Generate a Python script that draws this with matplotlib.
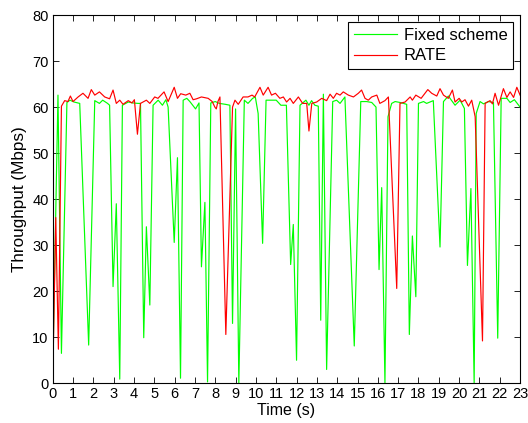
import matplotlib
matplotlib.use("Agg")
import matplotlib.pyplot as plt

# Fixed scheme (green) breakpoints
fixed_t = [0, 0.26, 0.43, 0.7, 0.85, 1.05, 1.33, 1.77, 2.07, 2.3, 2.46, 2.7, 2.8, 2.97, 3.13, 3.3,
           3.43, 3.72, 3.95, 4.2, 4.32, 4.48, 4.61, 4.78, 4.94, 5.19, 5.4, 5.57, 5.68, 5.98, 6.14,
           6.29, 6.42, 6.6, 6.75, 7.03, 7.2, 7.32, 7.49, 7.62, 7.78, 8.0, 8.2, 8.5, 8.72, 8.85,
           9.0, 9.16, 9.43, 9.61, 9.84, 9.97, 10.11, 10.33, 10.5, 10.8, 11.0, 11.23, 11.5, 11.71,
           11.84, 12.0, 12.17, 12.46, 12.61, 12.74, 12.9, 13.07, 13.19, 13.32, 13.48, 13.78,
           13.97, 14.14, 14.38, 14.84, 15.16, 15.45, 15.7, 15.91, 16.06, 16.19, 16.35, 16.5,
           16.68, 16.85, 17.1, 17.42, 17.55, 17.7, 17.87, 18.0, 18.25, 18.4, 18.73, 19.06,
           19.23, 19.47, 19.8, 20.05, 20.26, 20.41, 20.58, 20.74, 20.84, 21.03, 21.2, 21.44,
           21.69, 21.9, 22.07, 22.35, 22.51, 22.72, 23.0]
fixed_v = [2, 62.6, 6.5, 61, 61.5, 61.1, 60.8, 8.3, 61.4, 60.8, 61.5, 60.8, 60.4, 21, 39, 0.9,
           60.4, 61.1, 60.9, 60.8, 60.8, 9.9, 34, 17, 60.4, 61.5, 60.4, 61.6, 60, 30.6, 49,
           1.1, 61.5, 61.9, 61.2, 59.6, 60.9, 25.3, 39.3, 0.3, 60.9, 61.2, 60.8, 60.6, 60.4, 13,
           59.6, 0, 61.5, 60.8, 61.9, 62.2, 58.6, 30.4, 61.5, 61.5, 61.5, 60.4, 60.4, 25.8,
           34.5, 5, 60.4, 61.5, 60.4, 61.4, 60.4, 60.2, 13.7, 62.8, 3, 61.2,
           61.5, 60.8, 62.2, 8.1, 61.2, 61.2, 61, 60, 24.7, 42.5, 0, 57.9,
           60.8, 61.2, 61, 60.6, 10.6, 32, 18.8, 60.8, 61.2, 60.8, 61.4, 29.6,
           61.2, 62.4, 60.4, 61.5, 59.7, 25.6, 42.3, 0, 58.6, 61.2, 60.7, 61.2,
           61, 9.8, 61.9, 61.9, 61, 61.6, 60]

# RATE (red) breakpoints
rate_t = [0, 0.15, 0.28, 0.43, 0.59, 0.75, 0.87, 1.0, 1.25, 1.49, 1.74, 1.9, 2.07, 2.3, 2.56,
          2.8, 2.97, 3.13, 3.3, 3.46, 3.72, 3.9, 4.02, 4.17, 4.32, 4.61, 4.78, 5.02, 5.18, 5.48,
          5.68, 5.98, 6.14, 6.3, 6.55, 6.75, 6.91, 7.08, 7.32, 7.65, 7.85, 7.98, 8.05, 8.13,
          8.23, 8.52, 8.85, 8.97, 9.13, 9.37, 9.61, 9.81, 9.94, 10.2, 10.36, 10.6, 10.77,
          10.96, 11.18, 11.35, 11.51, 11.68, 11.84, 12.09, 12.3, 12.5, 12.61, 12.75, 12.99,
          13.24, 13.48, 13.65, 13.81, 13.97, 14.14, 14.3, 14.55, 14.8, 15.04, 15.2, 15.37,
          15.53, 15.7, 15.95, 16.1, 16.35, 16.52, 16.93, 17.09, 17.34, 17.59, 17.7, 17.87,
          18.13, 18.46, 18.65, 18.9, 19.06, 19.23, 19.47, 19.67, 19.8, 20.0, 20.13, 20.29,
          20.46, 20.62, 20.79, 21.15, 21.28, 21.52, 21.64, 21.77, 21.94, 22.18, 22.35, 22.51,
          22.68, 22.84, 23.0]
rate_v = [0, 36, 7.4, 60.2, 61.4, 61.2, 62.4, 61.2, 62.2, 63, 61.9, 63.8, 62.6, 63.3, 62.2,
          61.8, 63.7, 60.8, 61.5, 60.6, 61.4, 60.9, 61.6, 54.1, 60.8, 61.5, 60.8, 62.2, 61.9, 63.3,
          61.2, 64.3, 61.9, 62.9, 62.6, 63, 61.6, 61.8, 62.2, 61.9, 61.2, 60, 59.6, 61.2,
          62.2, 10.6, 60, 61.5, 60.6, 62.2, 62.2, 62.6, 62.2, 64.3, 62.6, 64.3, 62.6,
          63, 61.9, 62.2, 61.1, 61.9, 60.8, 62.2, 60.8, 60.8, 54.8, 60.8, 61.1,
          61.9, 61.4, 62.8, 61.9, 63, 62.6, 63.3, 62.6, 62.2, 63, 63.7, 61.9,
          61.5, 62.2, 62.6, 60.8, 61.4, 62.2, 20.6, 60.8, 61.1, 62.2, 61.5, 62.6,
          61.9, 63.8, 63, 62.4, 64, 62.6, 61.9, 63.7, 61.1, 61.9, 61.1, 61.6,
          60.2, 61.5, 57.9, 9.2, 60.8, 61.4, 60.7, 63, 60.4, 64, 62.1, 63.3,
          62.1, 64.3, 62.6]

x_ticks = list(range(0, 24))
y_ticks = list(range(0, 81, 10))

plt.rcParams['font.family'] = ['Liberation Sans', 'DejaVu Sans']

fig = plt.figure(figsize=(5.28, 4.23), dpi=100)
ax = fig.add_axes([0.0998, 0.0939, 0.8852, 0.8706])

ax.plot(fixed_t, fixed_v, color=(0, 1, 0), lw=0.85, label='Fixed scheme')
ax.plot(rate_t, rate_v, color=(1, 0, 0), lw=0.85, label='RATE')

ax.set_xlim(0, 23)
ax.set_ylim(0, 80)
ax.set_xticks(x_ticks)
ax.set_yticks(y_ticks)
ax.tick_params(direction='in', top=True, right=True, length=4, width=0.6,
               labelsize=10.5, pad=3)
for s in ax.spines.values():
    s.set_linewidth(0.8)

ax.set_xlabel('Time (s)', fontsize=11.5, labelpad=1)
ax.set_ylabel('Throughput (Mbps)', fontsize=12.3, labelpad=4)

leg = ax.legend(loc='upper right', fontsize=12, frameon=True, fancybox=False,
                edgecolor='black', framealpha=1, borderaxespad=0.4,
                handlelength=2.6, handletextpad=0.4, labelspacing=0.35,
                borderpad=0.35)
leg.get_frame().set_linewidth(0.8)

fig.savefig('out.png', dpi=100)
